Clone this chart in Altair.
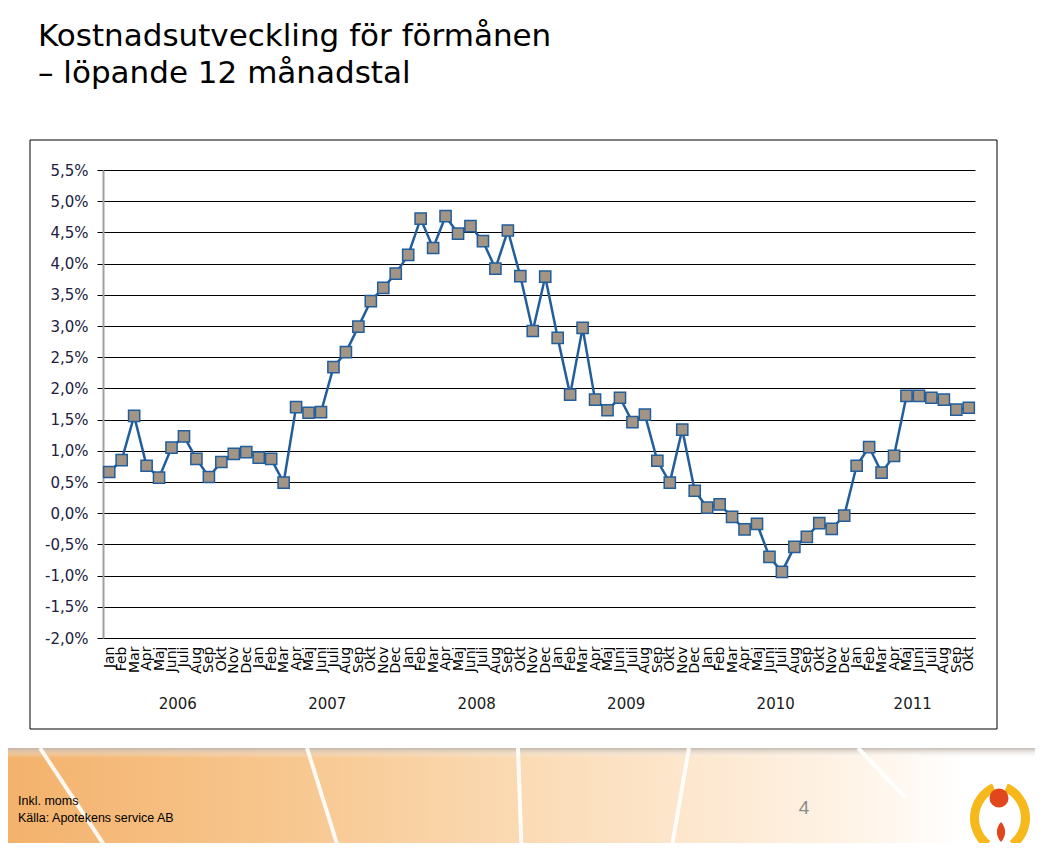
import altair as alt
import pandas as pd

months = ["Jan", "Feb", "Mar", "Apr", "Maj", "Juni", "Juli", "Aug", "Sep", "Okt", "Nov", "Dec"]
years = [2006, 2007, 2008, 2009, 2010, 2011]

v2006 = [0.66, 0.85, 1.56, 0.76, 0.57, 1.05, 1.23, 0.87, 0.58, 0.82, 0.95, 0.98]
v2007 = [0.89, 0.87, 0.49, 1.70, 1.61, 1.62, 2.34, 2.58, 2.99, 3.40, 3.61, 3.84]
v2008 = [4.14, 4.72, 4.25, 4.76, 4.48, 4.60, 4.36, 3.92, 4.53, 3.80, 2.92, 3.79]
v2009 = [2.81, 1.90, 2.97, 1.82, 1.65, 1.85, 1.46, 1.58, 0.84, 0.49, 1.34, 0.36]
v2010 = [0.09, 0.14, -0.06, -0.26, -0.17, -0.70, -0.94, -0.54, -0.38, -0.16, -0.25, -0.04]
v2011 = [0.76, 1.06, 0.65, 0.92, 1.88, 1.88, 1.85, 1.82, 1.66, 1.69]
series = [v2006, v2007, v2008, v2009, v2010, v2011]

y_ticks = [-2.0, -1.5, -1.0, -0.5, 0.0, 0.5, 1.0, 1.5, 2.0, 2.5, 3.0, 3.5, 4.0, 4.5, 5.0, 5.5]

title_lines = ["Kostnadsutveckling för förmånen", "– löpande 12 månadstal"]
note_lines = ["Inkl. moms", "Källa: Apotekens service  AB"]
page_no = "4"

rows = []
year_rows = []
for yr, vals in zip(years, series):
    for m, v in zip(months, vals):
        rows.append({"key": f"{yr}-{m}", "value": v})
    mid = months[(len(vals) - 1) // 2]
    year_rows.append({"key": f"{yr}-{mid}", "label": str(yr)})
df = pd.DataFrame(rows)
ydf = pd.DataFrame(year_rows)
keys = list(df["key"])

W, H = 872, 468
step = W / len(keys)

FONT = "DejaVu Sans"
LINE = "#215E9B"

xaxis = alt.Axis(
    title=None,
    labelExpr="split(datum.value, '-')[1]",
    labelAngle=270,
    labelFont=FONT,
    labelFontSize=14,
    labelColor="black",
    labelPadding=8,
    labelOverlap=False,
    labelBound=False,
    ticks=False,
    domainColor="black",
    domainWidth=1,
    grid=False,
)
xenc = alt.X("key:O", scale=alt.Scale(type="point", domain=keys, padding=0.5), axis=xaxis)

yaxis = alt.Axis(
    title=None,
    values=y_ticks,
    tickCount=16,
    labelExpr="(datum.value < 0 ? '-' : '') + replace(format(abs(datum.value), '.1f'), '.', ',') + '%'",
    labelFont=FONT,
    labelFontSize=15,
    labelColor="#202040",
    labelPadding=9,
    labelOverlap=False,
    tickSize=6,
    tickColor="black",
    domainColor="#A0A0A0",
    domainWidth=2,
    grid=True,
    gridColor="black",
    gridOpacity=1,
    gridWidth=1,
)
yenc = alt.Y("value:Q", scale=alt.Scale(domain=[-2, 5.5], nice=False, zero=False), axis=yaxis)

base = alt.Chart(df).encode(x=xenc, y=yenc)
line = base.mark_line(color=LINE, strokeWidth=2.5)
pts = base.mark_square(size=125, fill="#A39586", stroke=LINE, strokeWidth=1.5, opacity=1)
year_text = alt.Chart(ydf).mark_text(
    dx=step / 2, font=FONT, fontSize=15, color="#1a1a1a", baseline="middle", align="center"
).encode(x=xenc, y=alt.value(534), text="label:N")

deco = pd.DataFrame({"d": [0]})

footer = alt.Chart(deco).mark_rect(
    fill=alt.LinearGradient(
        gradient="linear", x1=0, x2=1, y1=0, y2=0,
        stops=[
            alt.GradientStop(offset=0, color="#F3B26C"),
            alt.GradientStop(offset=0.3, color="#F8C993"),
            alt.GradientStop(offset=0.52, color="#FBDCB7"),
            alt.GradientStop(offset=0.68, color="#FDE8D0"),
            alt.GradientStop(offset=0.85, color="#FFF6EC"),
            alt.GradientStop(offset=0.93, color="#FFFFFF"),
            alt.GradientStop(offset=1, color="#FFFFFF"),
        ],
    )
).encode(x=alt.value(-95), x2=alt.value(932), y=alt.value(578), y2=alt.value(690))

shadow = alt.Chart(deco).mark_rect(
    fill=alt.LinearGradient(
        gradient="linear", x1=0, x2=0, y1=0, y2=1,
        stops=[
            alt.GradientStop(offset=0, color="rgba(190,180,170,0.9)"),
            alt.GradientStop(offset=1, color="rgba(255,255,255,0)"),
        ],
    )
).encode(x=alt.value(-95), x2=alt.value(932), y=alt.value(578), y2=alt.value(588))

white_lines = [
    ((-63, 578), (13, 693)),
    ((204, 578), (240, 693)),
    ((415, 578), (419, 693)),
    ((586, 578), (566, 693)),
    ((755, 578), (802, 627)),
]
curves = [
    alt.Chart(deco).mark_rule(stroke="white", strokeWidth=4, opacity=0.9).encode(
        x=alt.value(a[0]), y=alt.value(a[1]), x2=alt.value(b[0]), y2=alt.value(b[1])
    )
    for a, b in white_lines
]

box = alt.Chart(deco).mark_rect(fill="transparent", stroke="black", strokeWidth=1).encode(
    x=alt.value(-73), x2=alt.value(894), y=alt.value(-30), y2=alt.value(559)
)

titles = [
    alt.Chart(deco).mark_text(
        text=t, font=FONT, fontSize=31, color="black", align="left", baseline="alphabetic"
    ).encode(x=alt.value(-65), y=alt.value(yy))
    for t, yy in zip(title_lines, [-124, -87])
]

notes = [
    alt.Chart(deco).mark_text(
        text=t, font="Liberation Sans", fontSize=12.5, color="black", align="left", baseline="middle"
    ).encode(x=alt.value(-85), y=alt.value(yy))
    for t, yy in zip(note_lines, [631, 648])
]

pnum = alt.Chart(deco).mark_text(
    text=page_no, font="Liberation Sans", fontSize=19, color="#8A8A8A", align="center", baseline="middle"
).encode(x=alt.value(701), y=alt.value(638))

flame_l = alt.Chart(deco).mark_arc(
    fill="#F7B81C", radius=38, radius2=29, theta=3.8, theta2=5.85
).encode(x=alt.value(905), y=alt.value(648))
flame_r = alt.Chart(deco).mark_arc(
    fill="#F7B81C", radius=38, radius2=29, theta=0.43, theta2=2.48
).encode(x=alt.value(889), y=alt.value(648))
head = alt.Chart(deco).mark_circle(size=361, color="#E2461C", opacity=1).encode(
    x=alt.value(896), y=alt.value(628)
)
lens = alt.Chart(deco).mark_point(
    shape="M0,-1 C0.55,-0.4 0.55,0.4 0,1 C-0.55,0.4 -0.55,-0.4 0,-1 Z",
    size=400, filled=True, color="#E2461C", opacity=1,
).encode(x=alt.value(898), y=alt.value(662))

chart = alt.layer(
    footer, shadow, *curves, box, line, pts, year_text, *titles, *notes, pnum,
    flame_l, flame_r, head, lens,
).properties(
    width=W,
    height=H,
    autosize=alt.AutoSizeParams(type="none"),
    padding={"left": 95, "top": 162, "right": 60, "bottom": 205},
    background="white",
).configure_view(stroke=None)

chart.save("out.html", embed_options={"renderer": "svg", "actions": False})
